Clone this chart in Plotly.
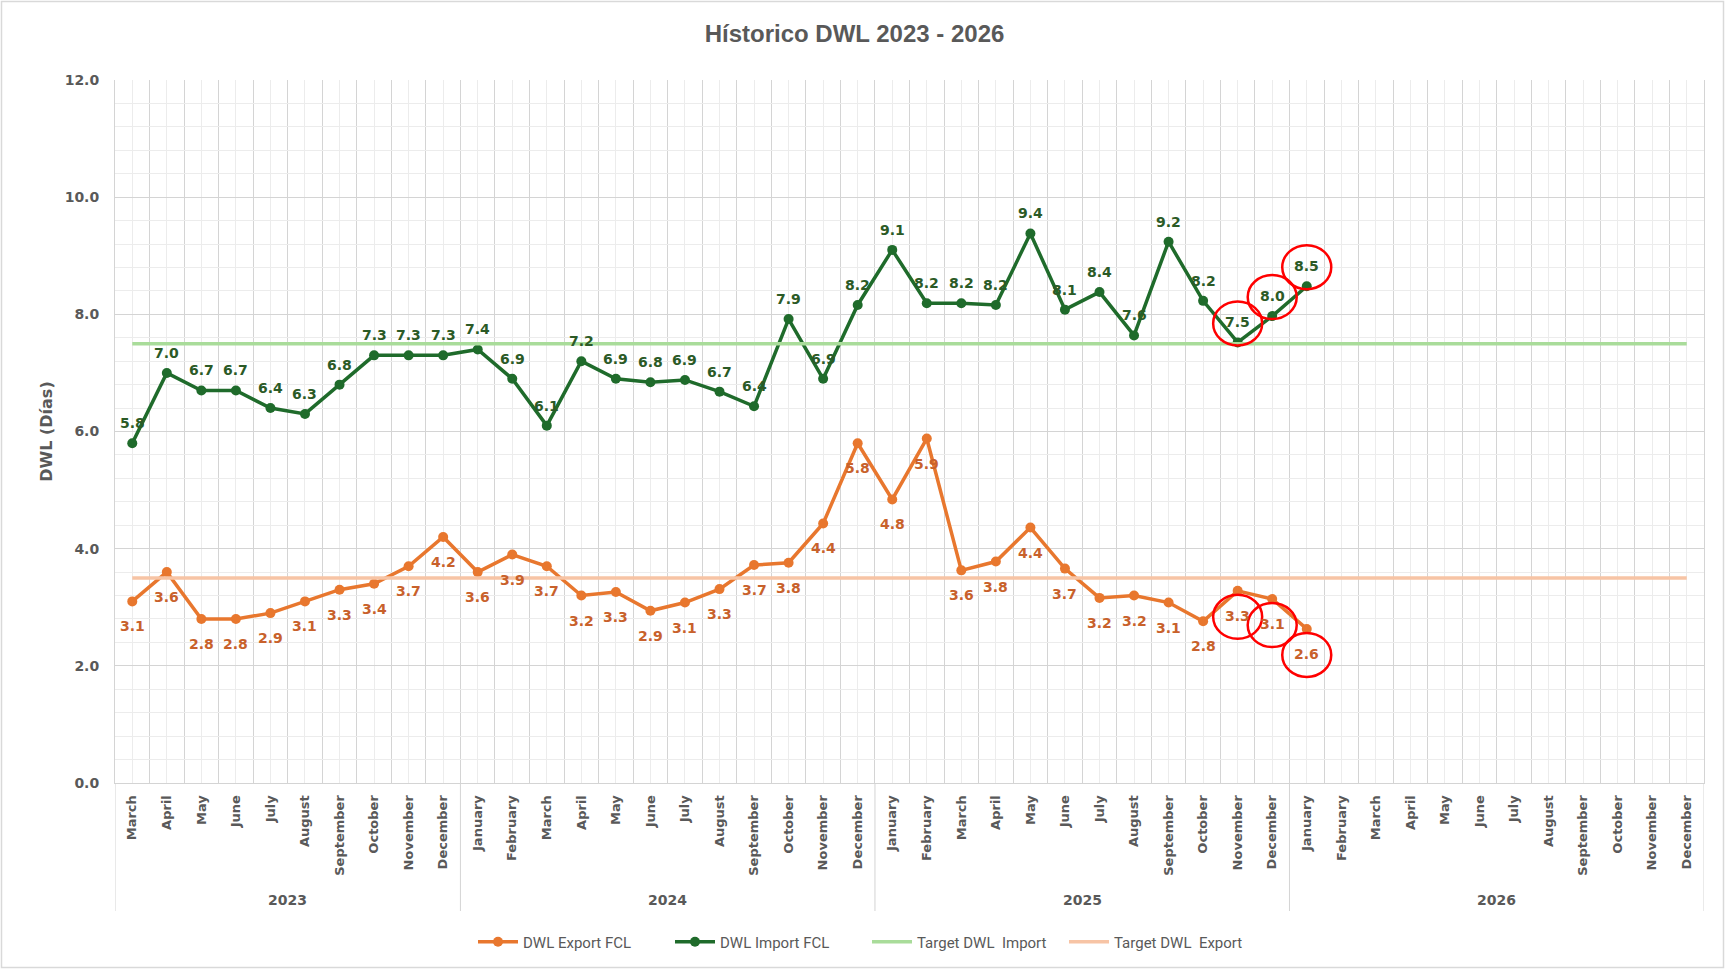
import plotly.graph_objects as go

# ---------------- data ----------------
month_names = ["January", "February", "March", "April", "May", "June", "July",
               "August", "September", "October", "November", "December"]
years = ["2023"] * 10 + ["2024"] * 12 + ["2025"] * 12 + ["2026"] * 12
months = month_names[2:] + month_names * 3

dwl_import = [5.8, 7.0, 6.7, 6.7, 6.4, 6.3, 6.8, 7.3, 7.3, 7.3,
              7.4, 6.9, 6.1, 7.2, 6.9, 6.84, 6.88, 6.68, 6.43, 7.92, 6.9, 8.16,
              9.1, 8.19, 8.19, 8.16, 9.38, 8.08, 8.38, 7.64, 9.24, 8.23, 7.52, 7.97,
              8.48]
dwl_export = [3.1, 3.6, 2.8, 2.8, 2.9, 3.1, 3.3, 3.4, 3.7, 4.2,
              3.6, 3.9, 3.7, 3.2, 3.26, 2.94, 3.08, 3.31, 3.72, 3.76, 4.43, 5.8,
              4.84, 5.88, 3.63, 3.78, 4.36, 3.66, 3.16, 3.2, 3.08, 2.76, 3.28, 3.14,
              2.63]
target_import = 7.5
target_export = 3.5
highlighted = [("2025", "November"), ("2025", "December"), ("2026", "January")]

# ---------------- derived ----------------
n = len(months)
idx = list(range(n))
imp_x = idx[:len(dwl_import)]
exp_x = idx[:len(dwl_export)]
tgt_imp = [target_import] * n
tgt_exp = [target_export] * n

GREEN = "#1f6b2b"
GREEN_TXT = "#2b5a26"
ORANGE = "#e8772e"
ORANGE_TXT = "#c8612b"
GRAY = "#595959"
GRID = "#d4d4d4"
GRID_MINOR = "#ececec"
FONT = "DejaVu Sans"
TITLE_FONT = "Liberation Sans, Arial, sans-serif"
LEG_FONT = "Roboto, sans-serif"

W, H = 1725, 969
ml, mr, mt, mb = 115, 21, 80, 186
pw, ph = W - ml - mr, H - mt - mb

fig = go.Figure()
fig.add_trace(go.Scatter(x=exp_x, y=dwl_export, name="DWL Export FCL", mode="lines+markers",
                         line=dict(color=ORANGE, width=3.5), marker=dict(size=10, color=ORANGE),
                         hoverinfo="skip"))
fig.add_trace(go.Scatter(x=imp_x, y=dwl_import, name="DWL Import FCL", mode="lines+markers",
                         line=dict(color=GREEN, width=3.5), marker=dict(size=10, color=GREEN),
                         hoverinfo="skip"))
fig.add_trace(go.Scatter(x=idx, y=tgt_imp, name="Target DWL  Import", mode="lines",
                         line=dict(color="#a9dc9a", width=3.5), hoverinfo="skip"))
fig.add_trace(go.Scatter(x=idx, y=tgt_exp, name="Target DWL  Export", mode="lines",
                         line=dict(color="#f7c4a5", width=3.5), hoverinfo="skip"))

annotations = []
for i, v in zip(imp_x, dwl_import):
    annotations.append(dict(x=i, y=v, xref="x", yref="y", text=f"{v:.1f}", showarrow=False,
                            yshift=20, font=dict(family=FONT, size=14, color=GREEN_TXT, weight="bold")))
for i, v in zip(exp_x, dwl_export):
    annotations.append(dict(x=i, y=v, xref="x", yref="y", text=f"{v:.1f}", showarrow=False,
                            yshift=-25, font=dict(family=FONT, size=14, color=ORANGE_TXT, weight="bold")))

# year (outer category) labels and dividers
year_order = list(dict.fromkeys(years))
year_label_y = -(900 - (H - mb)) / ph
divider_y = -(911 - (H - mb)) / ph
shapes = []
boundaries = [-0.5]
for yr in year_order:
    members = [i for i in idx if years[i] == yr]
    annotations.append(dict(x=sum(members) / len(members), y=year_label_y, xref="x", yref="paper",
                            text=yr, showarrow=False, yanchor="middle",
                            font=dict(family=FONT, size=14, color=GRAY, weight="bold")))
    boundaries.append(members[-1] + 0.5)
for b in boundaries:
    shapes.append(dict(type="line", xref="x", yref="paper", x0=b, x1=b, y0=0, y1=divider_y,
                       line=dict(color=GRID, width=1)))

# red highlight rings
for (yr, mo) in highlighted:
    k = [i for i in idx if years[i] == yr and months[i] == mo][0]
    for series, off in ((dwl_import, 19), (dwl_export, -26)):
        shapes.append(dict(type="circle", xref="x", yref="y", xsizemode="pixel", ysizemode="pixel",
                           xanchor=k, yanchor=series[k], x0=-24.5, x1=24.5,
                           y0=off - 22, y1=off + 22, line=dict(color="#ff0000", width=2.5)))

# chart-area border
shapes.append(dict(type="rect", xref="paper", yref="paper",
                   x0=-(ml - 1.5) / pw, x1=1 + (mr - 1.5) / pw,
                   y0=-(mb - 1.5) / ph, y1=1 + (mt - 1.5) / ph,
                   line=dict(color="#d9d9d9", width=1.5), layer="below"))

fig.update_layout(
    width=W, height=H,
    margin=dict(l=ml, r=mr, t=mt, b=mb, autoexpand=False),
    paper_bgcolor="white", plot_bgcolor="white",
    title=dict(text="Hístorico DWL 2023 - 2026", x=854.5 / W, xanchor="center",
               y=1 - 34 / H, yanchor="middle", yref="container",
               font=dict(family=TITLE_FONT, size=24, color=GRAY, weight="bold")),
    xaxis=dict(range=[-0.5, n - 0.5], tickmode="array", tickvals=idx, ticktext=months,
               tickangle=-90, showgrid=True, gridcolor=GRID_MINOR, gridwidth=1,
               zeroline=False, showline=True, linecolor=GRID, linewidth=1, ticks="",
               ticklabelstandoff=6, automargin=False,
               minor=dict(tickmode="linear", tick0=-0.5, dtick=1, showgrid=True,
                          gridcolor=GRID, gridwidth=1),
               tickfont=dict(family=FONT, size=13, color=GRAY, weight="bold")),
    yaxis=dict(range=[0, 12], dtick=2, tickformat=".1f", showgrid=True,
               gridcolor=GRID, gridwidth=1, zeroline=False, automargin=False,
               showline=True, mirror=True, linecolor=GRID, ticks="", ticklabelstandoff=12,
               minor=dict(dtick=0.4, showgrid=True, gridcolor=GRID_MINOR, gridwidth=1),
               tickfont=dict(family=FONT, size=14, color=GRAY, weight="bold"),
               title=dict(text="DWL (Días)", standoff=8,
                          font=dict(family=FONT, size=16, color=GRAY, weight="bold"))),
    legend=dict(orientation="h", x=(867 - ml) / pw, xanchor="center",
                y=-(942 - (H - mb)) / ph, yanchor="middle",
                font=dict(family=LEG_FONT, size=15, color=GRAY),
                itemwidth=40, entrywidth=142, entrywidthmode="pixels", traceorder="normal"),
    annotations=annotations,
    shapes=shapes,
    showlegend=True,
)

fig.write_html("out.html", config={"displayModeBar": False},
               post_script="document.body.style.margin='0';")
